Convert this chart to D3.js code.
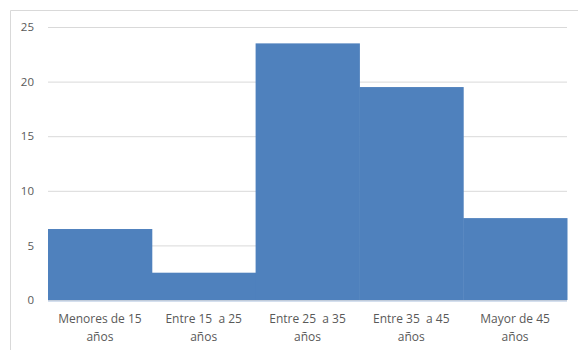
<!DOCTYPE html>
<html>
<head>
<meta charset="utf-8">
<script src="https://cdn.jsdelivr.net/npm/d3@7"></script>
<style>
  html, body { margin: 0; padding: 0; background: #fff; }
  svg { display: block; }
  text { font-family: "Open Sans", "Noto Sans", sans-serif; fill: #595959; }
</style>
</head>
<body>
<svg id="chart" width="578" height="350"></svg>
<script>
// Age groups (two-line labels) and their values
const categories = [
  ["Menores de 15", "años"],
  ["Entre 15  a 25", "años"],
  ["Entre 25  a 35", "años"],
  ["Entre 35  a 45", "años"],
  ["Mayor de 45", "años"]
];
const values = [6.5, 2.5, 23.5, 19.5, 7.5];
const yTicks = [0, 5, 10, 15, 20, 25];

const svg = d3.select("#chart");
const plotLeft = 48, plotRight = 567, plotTop = 27, plotBottom = 300;

// Chart area frame
svg.append("path")
  .attr("d", "M10.5,350 V10.5 H578")
  .attr("fill", "none")
  .attr("stroke", "#d9d9d9")
  .attr("stroke-width", 1);

const x = d3.scaleBand()
  .domain(categories.map((d, i) => i))
  .range([plotLeft, plotRight])
  .padding(0);

const y = d3.scaleLinear()
  .domain([0, 25])
  .range([plotBottom, plotTop]);

// Horizontal gridlines and y labels
const yAxis = d3.axisLeft(y)
  .tickValues(yTicks)
  .tickSize(-(plotRight - plotLeft))
  .tickPadding(14)
  .tickFormat(d3.format("d"));

const gy = svg.append("g")
  .attr("transform", `translate(${plotLeft},0)`)
  .call(yAxis);
gy.select(".domain").remove();
gy.selectAll(".tick line")
  .attr("stroke", "#d9d9d9")
  .attr("stroke-width", 1);
gy.selectAll(".tick text")
  .attr("font-size", 11.5)
  .attr("fill", "#595959");

// Bars (touching, no gap)
svg.append("g")
  .selectAll("rect")
  .data(values)
  .join("rect")
  .attr("x", (d, i) => x(i))
  .attr("y", d => y(d))
  .attr("width", x.bandwidth() + 0.5)
  .attr("height", d => y(0) - y(d))
  .attr("fill", "#4f81bd");

// Category axis line
svg.append("line")
  .attr("x1", plotLeft).attr("x2", plotRight)
  .attr("y1", plotBottom + 1).attr("y2", plotBottom + 1)
  .attr("stroke", "#a9c0de")
  .attr("stroke-width", 1.2);

// Category labels
const gx = svg.append("g");
categories.forEach((lines, i) => {
  const cx = x(i) + x.bandwidth() / 2;
  const t = gx.append("text")
    .attr("x", cx)
    .attr("y", 323)
    .attr("text-anchor", "middle")
    .attr("font-size", 12)
    .style("white-space", "pre");
  lines.forEach((line, j) => {
    t.append("tspan")
      .attr("x", cx)
      .attr("dy", j === 0 ? 0 : 18)
      .text(line);
  });
});
</script>
</body>
</html>
